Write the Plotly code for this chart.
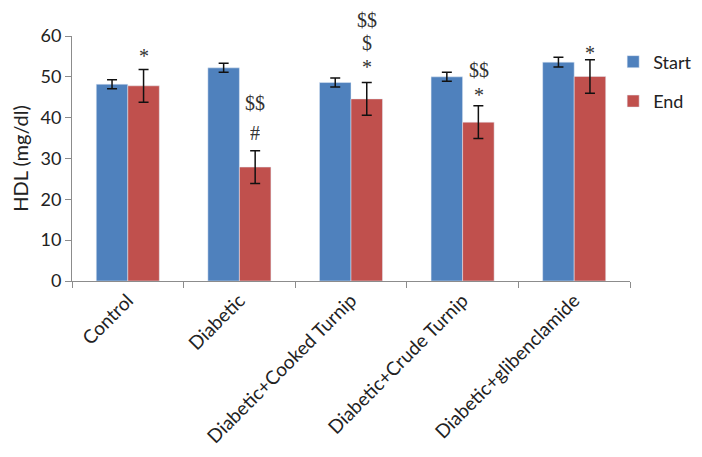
import plotly.graph_objects as go

categories = ["Control", "Diabetic", "Diabetic+Cooked Turnip", "Diabetic+Crude Turnip", "Diabetic+glibenclamide"]
start_vals = [48.2, 52.2, 48.6, 50.0, 53.6]
start_err = [1.1, 1.1, 1.1, 1.1, 1.2]
end_vals = [47.8, 27.9, 44.6, 38.9, 50.1]
end_err = [4.0, 4.0, 4.0, 4.0, 4.1]
y_max = 60

# significance marks above the End bars: (category index, label, y value in HDL units)
marks = [
    (0, "*", 56.1),
    (1, "$$", 43.6),
    (1, "#", 36.2),
    (2, "$$", 63.8),
    (2, "$", 58.3),
    (2, "*", 53.4),
    (3, "$$", 51.7),
    (3, "*", 46.5),
    (4, "*", 56.8),
]

BLUE = "#4F81BD"
RED = "#C0504D"
FONT = "Lato, Open Sans, sans-serif"
TXT = "#222222"

fig = go.Figure()
fig.add_trace(go.Bar(
    x=categories, y=start_vals, name="Start", marker_color=BLUE, legendgroup="s",
    error_y=dict(type="data", array=start_err, color="#111111", thickness=1.5, width=5),
))
fig.add_trace(go.Bar(
    x=categories, y=end_vals, name="End", marker_color=RED, legendgroup="e",
    error_y=dict(type="data", array=end_err, color="#111111", thickness=1.5, width=5),
))

for ci, txt, yv in marks:
    star = txt == "*"
    fig.add_annotation(
        x=categories[ci], y=yv / y_max, xref="x", yref="paper", text=txt, showarrow=False,
        xshift=16, yshift=-4 if star else 0, height=18, valign="middle",
        font=dict(family="Liberation Serif, Times New Roman, serif", size=20, color="#333333"),
        xanchor="center", yanchor="middle",
    )

fig.update_layout(
    width=694, height=449,
    margin=dict(l=64, r=72, t=28, b=176, autoexpand=False),
    paper_bgcolor="white", plot_bgcolor="white",
    barmode="group", bargap=0.435, bargroupgap=0,
    font=dict(family=FONT, size=16, color=TXT),
    showlegend=True,
    legend=dict(xref="container", yref="container", x=0.872, y=0.921,
                xanchor="left", yanchor="top",
                font=dict(size=18, family=FONT, color=TXT),
                tracegroupgap=13, itemwidth=30, bgcolor="rgba(0,0,0,0)"),
    xaxis=dict(
        tickangle=-45, showline=True, linecolor="#8c8c8c", linewidth=1,
        ticks="outside", tickson="boundaries", ticklen=6, tickcolor="#8c8c8c",
        tickfont=dict(size=19, family=FONT, color=TXT),
        showgrid=False, automargin=False,
    ),
    yaxis=dict(
        range=[0, y_max], dtick=10, showline=True, linecolor="#8c8c8c", linewidth=1,
        ticks="outside", ticklen=6, tickcolor="#8c8c8c", showgrid=False, zeroline=False,
        tickfont=dict(size=18, family=FONT, color=TXT), automargin=False,
        title=dict(text="HDL (mg/dl)", font=dict(size=20, family=FONT, color=TXT), standoff=15),
    ),
)

fig.write_html("out.html")
